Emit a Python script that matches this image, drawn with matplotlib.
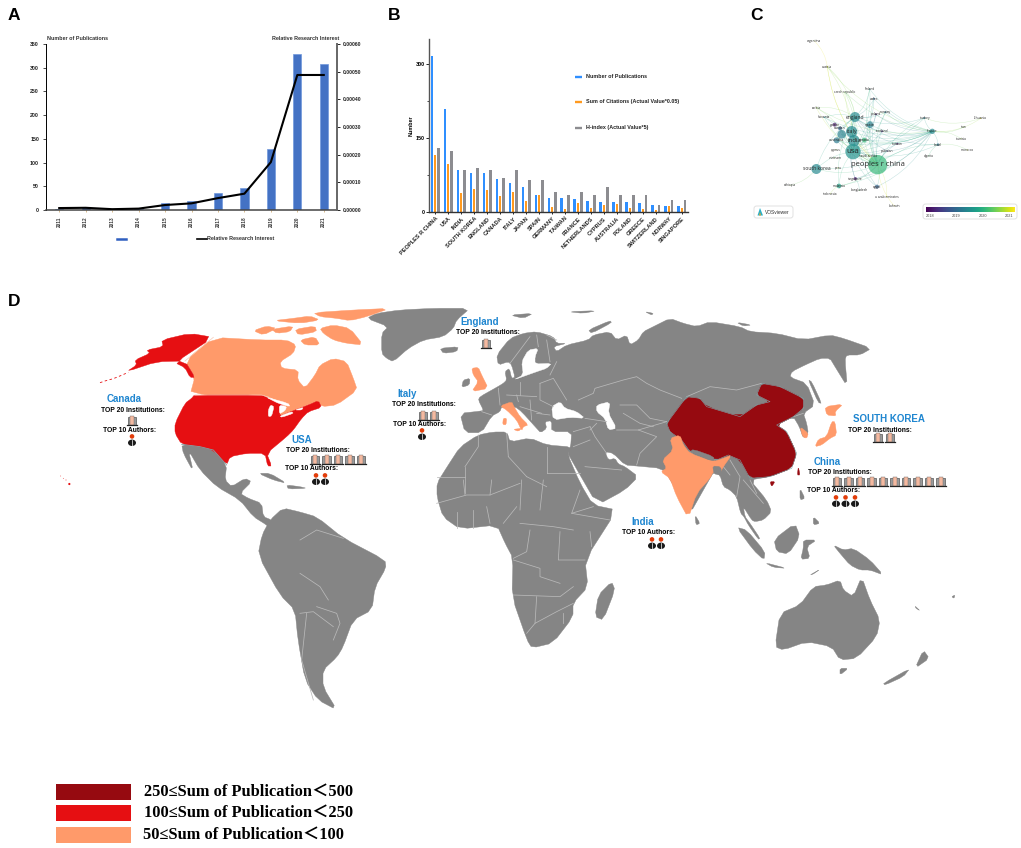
import matplotlib
matplotlib.use('Agg')
import matplotlib.pyplot as plt
from matplotlib.patches import Polygon, Rectangle, Circle, FancyBboxPatch, PathPatch, Ellipse
from matplotlib.path import Path
from matplotlib.ticker import FormatStrFormatter, FixedLocator
import numpy as np

plt.rcParams['font.family'] = ['Liberation Sans', 'DejaVu Sans']

W, H = 1021, 848

# ---- panel A
years = ['2011', '2012', '2013', '2014', '2015', '2016', '2017', '2018', '2019', '2020', '2021']
pubs = [3, 7, 1, 2, 15, 20, 36, 46, 129, 329, 308]
interest = [0.000007, 0.000008, 0.000003, 0.000005, 0.000018, 0.000024, 0.000043, 0.000059, 0.000173, 0.000488, 0.000488]

# ---- panel B
countries = ['PEOPLES R CHINA', 'USA', 'INDIA', 'SOUTH KOREA', 'ENGLAND', 'CANADA', 'ITALY', 'JAPAN', 'SPAIN', 'GERMANY',
             'TAIWAN', 'FRANCE', 'NETHERLANDS', 'CYPRUS', 'AUSTRALIA', 'POLAND', 'GREECE', 'SWITZERLAND', 'NORWAY', 'SINGAPORE']
n_pubs = [316, 208, 84, 79, 78, 67, 59, 50, 34, 28, 28, 26, 22, 20, 20, 20, 18, 14, 12, 12]
n_cites = [115, 98, 38, 47, 45, 33, 40, 23, 34, 11, 7, 18, 9, 14, 16, 8, 7, 5, 12, 9]
h_index = [129, 124, 84, 90, 84, 69, 84, 65, 65, 40, 34, 40, 34, 50, 34, 34, 34, 14, 24, 24]

# ---- panel C, positions are in the 3x crop of the panel
node_names = ['argentina', 'austria', 'czech republic', 'finland', 'wales', 'serbia', 'norway', 'england', 'slovenia',
              'turkey', 'lithuania', 'spain', 'scotland', 'france', 'tunisia', 'italy', 'germany', 'sweden', 'india',
              'australia', 'brazil', 'taiwan', 'iran', 'morocco', 'algeria', 'canada', 'usa', 'cyprus', 'vietnam',
              'peoples r china', 'south korea', 'peru', 'singapore', 'ethiopia', 'malaysia', 'indonesia', 'bangladesh',
              'egypt', 'u arab emirates', 'bahrain', 'pakistan', 'saudi arabia', 'poland', 'greece']
node_x = [222, 262, 314, 389, 402, 229, 436, 345, 253, 553, 722, 390, 426, 577, 663, 335, 305, 300, 342,
          290, 594, 472, 671, 682, 566, 373, 339, 288, 284, 413, 229, 294, 346, 150, 297, 271, 358, 411, 440, 463,
          442, 385, 408, 284]
node_y = [122, 200, 276, 267, 296, 323, 337, 351, 352, 354, 355, 374, 394, 394, 416, 395, 403, 385, 422,
          421, 434, 431, 381, 450, 468, 420, 455, 449, 473, 494, 507, 504, 536, 556, 558, 581, 571, 560, 590, 618,
          453, 467, 343, 374]
node_r = [1, 2, 1, 1.5, 3, 1.5, 3, 15, 2, 3, 2, 10, 3, 8, 1.5, 17, 13, 6, 17,
          9, 4, 3, 1.5, 1.5, 1.5, 7, 23, 1.5, 1.5, 29, 15, 1.5, 5, 1, 7, 1, 1.5, 6, 1.5, 1, 2, 2, 3, 6]
node_year = [2020.3, 2020.8, 2020.4, 2019.4, 2018.9, 2020.6, 2019.2, 2019.4, 2019.4, 2019.1, 2021, 2019.3, 2018.4, 2019.4,
             2020.6, 2019.4, 2019.3, 2018.9, 2019.4, 2019.2, 2019.1, 2018.2, 2020.5, 2020.8, 2020.2, 2020.0, 2019.5,
             2020.5, 2020.4, 2020.0, 2019.4, 2020.9, 2018.2, 2020.6, 2019.7, 2020.7, 2020.3, 2018.9, 2020.8, 2021, 2018.4,
             2020.4, 2018.2, 2018.2]
node_font = {'usa': 5.6, 'peoples r china': 5.5, 'south korea': 3.6, 'england': 3.6, 'italy': 4.0, 'india': 4.4,
             'spain': 2.9, 'france': 2.6, 'australia': 2.7, 'germany': 0}
vos_hubs = ['usa', 'peoples r china', 'england', 'france']
vos_spokes = ['austria', 'czech republic', 'finland', 'wales', 'serbia', 'norway', 'slovenia', 'turkey', 'scotland',
              'brazil', 'taiwan', 'canada', 'south korea', 'singapore', 'malaysia', 'egypt', 'pakistan', 'italy',
              'germany', 'australia', 'poland', 'india', 'spain']
vos_extra = [('argentina', 'austria'), ('austria', 'peoples r china'), ('lithuania', 'france'), ('tunisia', 'france'),
             ('iran', 'france'), ('morocco', 'brazil'), ('algeria', 'brazil'), ('ethiopia', 'south korea'),
             ('bahrain', 'peoples r china'), ('u arab emirates', 'peoples r china'), ('indonesia', 'malaysia'),
             ('bangladesh', 'singapore'), ('lithuania', 'turkey'), ('usa', 'peoples r china'), ('usa', 'england'), ('usa', 'india')]

# ---- panel D, outlines in the 3x crops they were read from
# crop at (0, 290)
USA = [(583, 315), (785, 315), (808, 326), (852, 340), (835, 380), (880, 362), (925, 345), (955, 332), (965, 352), (925, 365), (905, 385),
       (880, 420), (860, 440), (800, 490), (815, 528), (803, 528), (795, 490), (740, 490), (690, 500), (680, 525),
       (640, 480), (600, 470), (545, 463), (525, 430), (525, 400), (555, 340), (575, 325)]
GREAT_LAKES = [[(800, 322), (865, 340), (870, 350), (835, 340), (815, 330)], [(812, 345), (822, 350), (815, 378), (805, 380), (805, 360)],
               [(838, 345), (860, 350), (855, 362), (838, 372)], [(840, 378), (875, 365), (880, 370), (845, 382)], [(885, 360), (910, 352), (905, 360)]]
CANADA = [(640, 142), (555, 213), (585, 260), (570, 315), (785, 315), (810, 322), (850, 340), (835, 380), (880, 362), (955, 332),
          (965, 350), (1010, 345), (1072, 300), (1060, 265), (1040, 215), (1000, 205), (960, 225), (945, 255), (915, 295),
          (893, 270), (895, 240), (845, 235), (840, 215), (880, 190), (888, 165), (860, 150), (780, 150)]
ARCTIC = [[(760, 122), (800, 108), (830, 115), (790, 135)], [(815, 118), (880, 108), (870, 125), (830, 130)],
          [(820, 92), (880, 85), (930, 78), (960, 90), (900, 100)], [(940, 68), (1060, 60), (1170, 55), (1100, 80), (1050, 92), (1010, 85), (960, 80)],
          [(960, 115), (1000, 105), (1050, 115), (1090, 165), (1040, 160), (1000, 150), (970, 130)], [(885, 118), (945, 108), (950, 125), (895, 135)],
          [(900, 150), (945, 140), (960, 165), (915, 165)]]
ALASKA = [(640, 142), (570, 130), (485, 150), (490, 170), (440, 180), (450, 190), (405, 210), (410, 225), (380, 245), (470, 215),
          (555, 213), (585, 262), (570, 262), (555, 233), (525, 218)]
ALEUTIANS = [(300, 278), (318, 272), (340, 266), (362, 257), (385, 247)]
HAWAII = [(182, 558), (190, 565), (198, 570), (208, 582)]
GREENLAND = [(1100, 85), (1130, 70), (1200, 60), (1300, 55), (1410, 55), (1370, 90), (1360, 115), (1330, 140), (1270, 150), (1225, 175), (1180, 215),
             (1160, 205), (1145, 190), (1145, 130), (1165, 110)]
ICELAND = [(1320, 175), (1375, 170), (1370, 185), (1330, 190)]
MEXICO = [(545, 463), (600, 470), (640, 480), (680, 525), (675, 570), (695, 590), (735, 565), (755, 575), (720, 610), (745, 625), (785, 640),
          (790, 680), (815, 690), (830, 730), (800, 705), (760, 680), (720, 630), (650, 590), (600, 540), (565, 480), (580, 545), (550, 490)]
CUBA = [(775, 550), (810, 550), (860, 580), (820, 570)]
HISPANIOLA = [(860, 585), (900, 590), (920, 595), (865, 597)]

# crop at (350, 300)
UK = [(365, 205), (385, 202), (395, 225), (415, 265), (365, 275), (385, 245), (370, 225)]
IRELAND = [(340, 240), (360, 235), (358, 255), (335, 262)]
ITALY = [(450, 318), (485, 305), (492, 320), (510, 350), (535, 375), (520, 380), (515, 392), (500, 360), (470, 330)]
SICILY = [(490, 388), (515, 385), (505, 394)]
SARDINIA = [(460, 355), (470, 355), (468, 375), (458, 373)]
EUROPE_BORDERS = [[(445, 265), (450, 315)], [(395, 335), (425, 345)], [(510, 245), (510, 285)], [(470, 285), (560, 290)], [(570, 250), (610, 235), (650, 300)],
                  [(570, 250), (570, 300), (610, 320)], [(480, 190), (540, 110)], [(560, 105), (565, 140)], [(590, 120), (600, 185)], [(540, 300), (545, 360)],
                  [(510, 320), (575, 340)], [(720, 390), (740, 370)], [(600, 225), (620, 185)], [(500, 285), (505, 305)], [(560, 340), (600, 345)], [(620, 120), (590, 105)]]
NORTH_AFRICA_BORDERS = [[(385, 405), (385, 440), (345, 500)], [(470, 400), (475, 470)], [(590, 440), (590, 520)], [(590, 520), (690, 520)],
                        [(345, 500), (345, 580)], [(475, 470), (530, 530)], [(530, 530), (590, 560)], [(260, 530), (345, 530)]]

# crop at (510, 290)
EURASIA = [(-150, 370), (-135, 428), (-85, 428), (-55, 378), (-30, 365), (-25, 350), (15, 350), (35, 365), (80, 415), (92, 428), (110, 415),
           (105, 395), (125, 392), (125, 425), (185, 425), (182, 470), (172, 487), (190, 520), (262, 645), (345, 600), (385, 560), (345, 530),
           (325, 522), (315, 505), (295, 510), (285, 485), (310, 490), (345, 525), (380, 528), (455, 535), (480, 565), (535, 680), (600, 565),
           (610, 548), (630, 555), (640, 590), (660, 600), (680, 620), (692, 670), (702, 680), (715, 705), (745, 748), (750, 745), (720, 700),
           (705, 680), (700, 650), (725, 690), (735, 695), (760, 690), (785, 665), (770, 630), (720, 570), (780, 560), (845, 535), (860, 490),
           (830, 425), (800, 405), (850, 380), (868, 410), (880, 445), (895, 430), (890, 400), (880, 370), (915, 345), (890, 280), (840, 262),
           (845, 245), (885, 225), (930, 205), (960, 205), (975, 230), (1012, 290), (1005, 210), (1010, 195), (1050, 195), (1085, 175), (1000, 145),
           (960, 135), (880, 150), (800, 130), (720, 125), (690, 110), (600, 95), (560, 110), (520, 100), (480, 85), (430, 110), (400, 125),
           (385, 150), (360, 165), (350, 135), (320, 150), (300, 125), (250, 135), (235, 150), (170, 165), (140, 185), (130, 170), (170, 160),
           (140, 160), (130, 140), (80, 125), (40, 130), (0, 145), (-40, 195), (-35, 225), (-5, 215), (5, 225), (15, 262), (5, 265), (-2, 235),
           (-15, 245), (-10, 270), (-20, 280), (-40, 292), (-90, 320), (-95, 330), (-80, 360), (-85, 363)]
NOVAYA = [(235, 120), (300, 92), (305, 98), (245, 130)]
NORTH_ISLES = [[(0, 75), (70, 70), (40, 85)], [(175, 65), (260, 62), (220, 70)], [(405, 65), (430, 70), (425, 75)], [(680, 97), (725, 105), (700, 108)]]
SAKHALIN = [(895, 270), (905, 275), (935, 340), (925, 338)]
BALTIC = [(10, 270), (80, 245), (110, 235), (125, 220), (75, 222), (75, 200), (85, 175), (55, 180), (35, 215), (40, 255)]
BLACK_SEA = [(125, 350), (150, 335), (165, 355), (200, 365), (225, 385), (180, 382), (130, 390)]
CASPIAN = [(260, 345), (300, 335), (295, 370), (320, 415), (295, 420), (285, 385), (260, 365)]
CHINA = [(470, 400), (530, 320), (570, 325), (590, 350), (690, 380), (740, 345), (780, 335), (740, 315), (755, 280), (810, 290),
         (880, 325), (880, 355), (850, 380), (800, 405), (830, 425), (860, 490), (845, 535), (780, 560), (720, 565), (690, 510),
         (655, 495), (620, 510), (540, 485), (515, 450), (480, 425)]
TAIWAN = [(865, 530), (870, 555), (862, 555)]
HAINAN = [(780, 575), (795, 575), (785, 590)]
INDIA = [(480, 445), (510, 435), (520, 465), (540, 490), (610, 515), (640, 505), (665, 495), (640, 530), (630, 550), (610, 545),
         (600, 565), (560, 610), (535, 685), (500, 620), (480, 565), (452, 545), (470, 535), (457, 510), (490, 480)]
BANGLADESH = [(608, 528), (632, 530), (636, 555), (612, 552)]
NEPAL = [(540, 485), (610, 515), (612, 500), (550, 478)]
HONSHU = [(915, 470), (925, 448), (950, 440), (965, 395), (975, 395), (980, 435), (960, 445), (935, 465)]
HOKKAIDO = [(945, 350), (1000, 342), (975, 365), (978, 378), (950, 375)]
SOUTH_KOREA = [(870, 410), (895, 430), (890, 445), (878, 440)]
ASIA_BORDERS = [[(205, 330), (250, 310), (255, 295), (340, 270), (380, 260), (410, 280), (450, 300), (515, 325)], [(530, 320), (600, 290), (680, 300), (755, 280)],
                [(330, 345), (380, 345), (420, 385), (470, 395)], [(340, 370), (390, 400), (430, 410)], [(225, 385), (290, 395)], [(320, 420), (385, 420), (470, 395)],
                [(240, 410), (255, 440), (290, 490)], [(190, 470), (240, 450)], [(225, 530), (335, 540)], [(385, 420), (440, 440), (390, 490), (380, 525)],
                [(660, 510), (690, 560), (680, 620)], [(700, 570), (760, 640)], [(720, 570), (740, 610)], [(190, 425), (240, 410)], [(850, 380), (880, 370)], [(640, 530), (660, 555)]]

# crop at (0, 0), figure pixels
AFRICA = [(478, 435), (460, 447), (447, 467), (437, 483), (437, 497), (443, 517), (460, 529), (497, 525), (505, 543), (513, 558), (512, 597), (527, 640),
          (532, 648), (553, 643), (573, 617), (573, 603), (588, 587), (585, 560), (617, 510), (593, 505), (580, 483), (567, 453),
          (572, 447), (547, 445), (530, 438), (510, 442), (507, 432), (493, 432)]
SOUTH_AMERICA = [(283, 508), (300, 512), (317, 517), (343, 538), (385, 560), (386, 568), (375, 587), (372, 610), (353, 620), (343, 647),
                 (337, 657), (323, 670), (323, 687), (337, 710), (318, 700), (305, 680), (298, 640), (295, 610), (280, 595), (258, 555),
                 (262, 535), (270, 520)]

# crop at (300, 480)
MADAGASCAR = [(935, 305), (945, 330), (910, 420), (885, 410), (895, 345)]
AFRICA_BORDERS = [[(410, 70), (500, 45), (570, 45), (660, 10)], [(490, 0), (495, 45)], [(570, 45), (575, 0)], [(665, 0), (660, 90)],
                  [(730, 0), (720, 90)], [(840, 30), (815, 100), (880, 80)], [(815, 100), (930, 120)], [(660, 130), (760, 140), (820, 150)],
                  [(690, 150), (680, 215), (640, 235)], [(780, 155), (775, 240), (855, 240)], [(870, 155), (875, 200)], [(640, 240), (720, 265), (720, 290), (780, 310)],
                  [(640, 345), (780, 350), (820, 320)], [(710, 350), (705, 430), (770, 395), (820, 370)], [(680, 460), (705, 430)], [(470, 95), (470, 145)],
                  [(520, 90), (520, 145)], [(560, 80), (570, 130)], [(650, 80), (610, 130)], [(790, 400), (790, 430)]]
AMERICA_BORDERS = [[(0, 280), (60, 320), (85, 360)], [(0, 180), (50, 150), (130, 175)], [(50, 380), (110, 400), (120, 430), (100, 480)], [(0, 400), (40, 395), (100, 440)], [(20, 400), (5, 540), (40, 660)]]

# crop at (640, 480)
SRI_LANKA = [(165, 105), (180, 130), (168, 135)]
SUMATRA = [(290, 142), (320, 150), (375, 215), (372, 240), (340, 210)]
JAVA = [(375, 248), (440, 265), (400, 262)]
BORNEO = [(402, 178), (465, 130), (480, 170), (445, 222), (410, 215)]
SULAWESI = [(490, 180), (530, 180), (500, 200), (510, 235), (482, 238), (490, 205)]
NEW_GUINEA = [(580, 195), (610, 210), (640, 205), (690, 240), (730, 285), (690, 270), (660, 270), (630, 255), (600, 220)]
LUZON = [(480, 25), (495, 55), (480, 60)]
MINDANAO = [(520, 110), (540, 130), (520, 135)]
AUSTRALIA = [(405, 500), (420, 400), (480, 375), (520, 320), (560, 315), (600, 300), (610, 330), (640, 350), (665, 290), (690, 360), (720, 420), (710, 470), (650, 535),
             (600, 540), (575, 500), (500, 485), (430, 510)]
TASMANIA = [(600, 565), (625, 565), (600, 585)]
NZ_SOUTH = [(730, 610), (810, 565), (790, 590), (735, 615)]
NZ_NORTH = [(825, 565), (850, 510), (868, 535)]
CALEDONIA = [(825, 378), (840, 392), (828, 385)]
FIJI = [(935, 350), (945, 345), (942, 355)]
TIMOR = [(510, 285), (540, 268), (520, 282)]

legend_labels = ['250≤Sum of Publication＜500', '100≤Sum of Publication＜250', '50≤Sum of Publication＜100']
legend_colors = ['#960a10', '#e60f12', '#ff9a6a']
legend_y = [792, 813, 835]
legend_tx = [144, 144, 142.5]

# country, name xy, top 20 line xy, building xs, building y, top 10 line xy, author xs, author y
callouts = [
    ('Canada', (124, 399), (133, 410), [132], 421, (130, 430), [132], 441),
    ('USA', (302, 440), (318, 451), [315, 326.5, 338, 349.5, 361], 460, (312, 469), [316, 325], 480),
    ('Italy', (407, 394), (424, 404), [423, 434], 416, (420, 425), [422], 435),
    ('England', (480, 322), (488, 333), [486], 344, None, [], 0),
    ('SOUTH KOREA', (889, 419), (880, 430), [878, 890], 438, None, [], 0),
    ('China', (827, 462), (840, 473), [837, 848.5, 860, 871.5, 883, 894.5, 906, 917.5, 929, 940.5], 482, (834, 491), [836, 845.5, 855], 502),
    ('India', (643, 522), None, [], 0, (649, 533), [652, 661], 544),
]
GREY = '#858585'
BORDER = '#b9b9b9'


def crop(pts, ox, oy):
    return [(ox + x / 3, oy + y / 3) for x, y in pts]


def soften(pts, cut=0.2):
    # cut the corners once so coasts do not look like straight facets
    out = []
    n = len(pts)
    for i in range(n):
        p = np.array(pts[i])
        q = np.array(pts[(i + 1) % n])
        out.append(p + cut * (q - p))
        out.append(p + (1 - cut) * (q - p))
    return out


def land(ax, pts, color=GREY, z=2):
    ax.add_patch(Polygon(soften(pts), closed=True, fc=color, ec=color, lw=0.3, zorder=z, joinstyle='round'))


def border(ax, line, ox, oy):
    ax.plot(*zip(*crop(line, ox, oy)), color=BORDER, lw=0.55, zorder=3.5)


def building(ax, x, y):
    ax.add_patch(Rectangle((x - 4.2, y - 4), 8.4, 8, fc='#9a9a9a', ec='#555555', lw=0.5, zorder=6))
    ax.add_patch(Rectangle((x - 2, y - 4.8), 4, 8.8, fc='#f4b9a0', ec='#666666', lw=0.3, zorder=7))
    ax.plot([x - 5, x + 5], [y + 4.2, y + 4.2], color='#222222', lw=0.9, zorder=7)


def author(ax, x, y):
    ax.add_patch(Circle((x, y - 4.6), 2.3, fc='#e23d0a', ec='none', zorder=7))
    ax.add_patch(Ellipse((x, y + 1.8), 8, 6.4, fc='#1a1a1a', ec='none', zorder=6))
    ax.plot([x, x], [y - 1, y + 5], color='white', lw=0.5, zorder=7)


fig = plt.figure(figsize=(W / 100, H / 100), dpi=100, facecolor='white')
bg = fig.add_axes([0, 0, 1, 1])
bg.set_xlim(0, W)
bg.set_ylim(H, 0)
bg.axis('off')

# panel letters
for letter, lx, ly in zip('ABCD', [8, 388, 750, 8], [16, 16, 16, 301]):
    bg.text(lx, ly, letter, fontsize=12.5, fontweight='bold', va='center', ha='left')


def axes_px(left, top, right, bottom):
    return fig.add_axes([left / W, 1 - bottom / H, (right - left) / W, (bottom - top) / H], facecolor='none')


# ---- panel A
a = axes_px(46, 44, 337, 210)
xa = np.arange(len(years))
a.bar(xa, pubs, width=0.31, color='#4472c4', edgecolor='#6f97dc', linewidth=0.5, zorder=2)
a.set_xlim(-0.5, 10.5)
a.set_ylim(0, 350)
a.set_yticks(range(0, 351, 50))
a.set_xticks(xa)
a.set_xticklabels(years, rotation=90, fontsize=3.4, fontweight='bold', color='#333333')
a.tick_params(axis='y', labelsize=3.8, length=2, width=0.5, pad=3, labelcolor='#222222')
a.tick_params(axis='x', length=1.2, width=0.5, pad=3.5, color='#c8a060')
for s in ['top', 'right']:
    a.spines[s].set_visible(False)
a.spines['left'].set_linewidth(0.7)
a.spines['bottom'].set_linewidth(1.1)
a.spines['bottom'].set_color('#444444')
for t in a.get_yticklabels():
    t.set_fontweight('bold')

a2 = a.twinx()
a2.plot(xa, interest, color='black', lw=1.5, zorder=3)
a2.set_ylim(0, 0.0006)
a2.set_yticks(np.arange(0, 0.00061, 0.0001))
a2.yaxis.set_major_formatter(FormatStrFormatter('%.5f'))
a2.tick_params(axis='y', labelsize=3.6, length=2, width=0.6, pad=2, labelcolor='#222222')
for t in a2.get_yticklabels():
    t.set_fontweight('bold')
for s in ['top', 'left', 'bottom']:
    a2.spines[s].set_visible(False)
a2.spines['right'].set_linewidth(1.4)
a2.spines['right'].set_color('#666666')
a2.patch.set_visible(False)

bg.text(47, 38.5, 'Number of Publications', fontsize=3.9, fontweight='bold', color='#333333', va='center')
bg.text(339, 38.5, 'Relative Research Interest', fontsize=3.9, fontweight='bold', color='#333333', va='center', ha='right')
bg.plot([117, 126], [239, 239], color='#2f5fc0', lw=1.8)
bg.plot([197, 207], [239, 239], color='black', lw=1.2)
bg.text(207, 239, 'Relative Research Interest', fontsize=3.9, color='#333333', va='center', fontweight='bold')

# ---- panel B
b = axes_px(428.7, 39, 688, 212)
xb = np.arange(len(countries))
bw = 0.25
b.bar(xb - bw, n_pubs, width=0.2, color='#2f8fff', zorder=2)
b.bar(xb, n_cites, width=0.2, color='#ff9a1f', zorder=2)
b.bar(xb + bw, h_index, width=0.2, color='#8c8c90', zorder=2)
b.set_xlim(-0.5, 19.47)
b.set_ylim(0, 350)
b.set_yticks([0, 150, 300])
b.yaxis.set_minor_locator(FixedLocator([75, 225]))
b.set_xticks(xb)
b.set_xticklabels(countries, rotation=45, ha='right', rotation_mode='anchor', fontsize=4.1, fontweight='bold', color='#222222')
b.tick_params(axis='x', length=1.5, width=0.6, pad=1.5)
b.tick_params(axis='y', which='major', labelsize=3.9, length=2, width=0.6, pad=1)
b.tick_params(axis='y', which='minor', length=1.2, width=0.5)
for t in b.get_yticklabels():
    t.set_fontweight('bold')
for s in ['top', 'right']:
    b.spines[s].set_visible(False)
b.spines['left'].set_linewidth(1.0)
b.spines['left'].set_color('#555555')
b.spines['bottom'].set_linewidth(1.0)
b.spines['bottom'].set_color('#333333')
b.set_ylabel('Number', fontsize=3.9, fontweight='bold', labelpad=1)

b_legend = [('Number of Publications', '#2f8fff', 77), ('Sum of Citations (Actual Value*0.05)', '#ff9a1f', 102), ('H-index (Actual Value*5)', '#8c8c90', 128)]
for label, color, ly in b_legend:
    bg.plot([574.5, 582], [ly, ly], color=color, lw=1.7, solid_capstyle='butt')
    bg.text(586, ly, label, fontsize=3.9, fontweight='bold', color='#222222', va='center')

# ---- panel C
cmap = plt.get_cmap('viridis')


def year_color(y):
    return cmap((y - 2018) / 3)


pos = {n: (740 + x / 3, y / 3) for n, x, y in zip(node_names, node_x, node_y)}
years_by_name = dict(zip(node_names, node_year))
links = [(s, h) for s in vos_spokes for h in vos_hubs if s != h] + vos_extra
for k, (p, q) in enumerate(links):
    p0, p1 = np.array(pos[p]), np.array(pos[q])
    d = p1 - p0
    bend = 0.18 if k % 2 else -0.18
    ctrl = (p0 + p1) / 2 + bend * np.array([-d[1], d[0]])
    col = year_color((years_by_name[p] + years_by_name[q]) / 2 + 0.35)
    bg.add_patch(PathPatch(Path([p0, ctrl, p1], [Path.MOVETO, Path.CURVE3, Path.CURVE3]), fc='none', ec=col, lw=0.35, alpha=0.28, zorder=2))
for n, r, y in zip(node_names, node_r, node_year):
    bg.add_patch(Circle(pos[n], r / 3, fc=year_color(y), ec='none', alpha=0.68, zorder=3))
for n in node_names:
    fs = node_font.get(n, 2.3)
    if fs:
        bg.text(pos[n][0], pos[n][1], n, fontsize=fs, ha='center', va='center', color='#2a2a2a', zorder=4, family=['Open Sans', 'DejaVu Sans'])

bg.add_patch(FancyBboxPatch((754, 206), 39, 12, boxstyle='round,pad=0,rounding_size=2.5', fc='white', ec='#dddddd', lw=0.6))
bg.add_patch(Polygon([(757.5, 215.5), (760, 208), (763, 215.5)], closed=True, fc='#27b0c8', ec='none'))
bg.add_patch(Polygon([(759, 215.5), (760, 212), (761, 215.5)], closed=True, fc='#f2a124', ec='none'))
bg.text(764.5, 212, 'VOSviewer', fontsize=3.5, va='center', color='#333333')
bg.add_patch(FancyBboxPatch((923, 204), 94, 15, boxstyle='round,pad=0,rounding_size=2.5', fc='white', ec='#dddddd', lw=0.6))
bg.imshow(np.linspace(0, 1, 256)[None, :], cmap=cmap, extent=(925.5, 1014, 212, 207.5), aspect='auto', zorder=3)
bg.set_xlim(0, W)
bg.set_ylim(H, 0)
for lab, tx in zip(['2018', '2019', '2020', '2021'], [930, 956.5, 983, 1009]):
    bg.text(tx, 216, lab, fontsize=2.8, ha='center', va='center', color='#444444')

# ---- panel D
for pts in [GREENLAND, ICELAND, MEXICO, CUBA, HISPANIOLA]:
    land(bg, crop(pts, 0, 290))
land(bg, crop(CANADA, 0, 290), '#ff9a6a')
for pts in ARCTIC:
    land(bg, crop(pts, 0, 290), '#ff9a6a')
land(bg, crop(USA, 0, 290), '#e60f12', 3)
land(bg, crop(ALASKA, 0, 290), '#e60f12', 3)
for pts in GREAT_LAKES:
    land(bg, crop(pts, 0, 290), 'white', 4)
bg.plot(*zip(*crop(ALEUTIANS, 0, 290)), color='#e60f12', lw=0.6, ls=(0, (3, 3)), zorder=3)
bg.scatter(*zip(*crop(HAWAII, 0, 290)), s=[0.3, 0.3, 0.4, 2.5], color='#e60f12', zorder=3, linewidths=0)
bg.plot(*zip(*crop([(585, 315), (785, 315), (808, 322)], 0, 290)), color='#f6c9b5', lw=0.5, zorder=4)
bg.plot(*zip(*crop([(640, 142), (555, 213)], 0, 290)), color='#f6c9b5', lw=0.5, zorder=4)
bg.plot(*zip(*crop([(545, 463), (600, 470), (640, 480), (680, 525)], 0, 290)), color='#7fa0a5', lw=0.6, zorder=4)

land(bg, crop(EURASIA, 510, 290))
for pts in [NOVAYA, SAKHALIN] + NORTH_ISLES:
    land(bg, crop(pts, 510, 290))
for pts in [BALTIC, BLACK_SEA, CASPIAN]:
    land(bg, crop(pts, 510, 290), 'white', 3)
land(bg, AFRICA)
land(bg, SOUTH_AMERICA)
land(bg, crop(MADAGASCAR, 300, 480))
for pts in [SUMATRA, JAVA, BORNEO, SULAWESI, NEW_GUINEA, LUZON, MINDANAO, AUSTRALIA, TASMANIA, NZ_SOUTH, NZ_NORTH, CALEDONIA, FIJI, TIMOR, SRI_LANKA]:
    land(bg, crop(pts, 640, 480))
for line in ASIA_BORDERS:
    border(bg, line, 510, 290)
for line in EUROPE_BORDERS + NORTH_AFRICA_BORDERS:
    border(bg, line, 350, 300)
for line in AFRICA_BORDERS + AMERICA_BORDERS:
    border(bg, line, 300, 480)

land(bg, crop(IRELAND, 350, 300))
for pts in [UK, ITALY, SICILY, SARDINIA]:
    land(bg, crop(pts, 350, 300), '#ff9a6a', 4)
for pts in [CHINA, TAIWAN, HAINAN]:
    land(bg, crop(pts, 510, 290), '#960a10', 4)
bg.plot(*zip(*crop(CHINA + CHINA[:1], 510, 290)), color='#7fa0a5', lw=0.4, zorder=4)
for pts in [INDIA, HONSHU, HOKKAIDO, SOUTH_KOREA]:
    land(bg, crop(pts, 510, 290), '#ff9a6a', 4)
for pts in [BANGLADESH, NEPAL]:
    land(bg, crop(pts, 510, 290), GREY, 5)

for name, nxy, txy, bxs, by, axy, axs, ay in callouts:
    bg.text(nxy[0], nxy[1], name, fontsize=7.0, fontweight='bold', color='#1f86d0', ha='center', va='center', zorder=8)
    if txy:
        bg.text(txy[0], txy[1], 'TOP 20 Institutions:', fontsize=4.9, fontweight='bold', ha='center', va='center', zorder=8)
    for bx in bxs:
        building(bg, bx, by)
    if axy:
        bg.text(axy[0], axy[1], 'TOP 10 Authors:', fontsize=4.9, fontweight='bold', ha='center', va='center', zorder=8)
    for ax_ in axs:
        author(bg, ax_, ay)

for label, color, ly, tx in zip(legend_labels, legend_colors, legend_y, legend_tx):
    bg.add_patch(Rectangle((56, ly - 8), 75, 15.5, fc=color, ec='none'))
    bg.text(tx, ly, label, fontsize=11.8, fontweight='bold', va='center', family=['Liberation Serif', 'Noto Sans CJK SC'])

fig.savefig('out.png', dpi=100)
